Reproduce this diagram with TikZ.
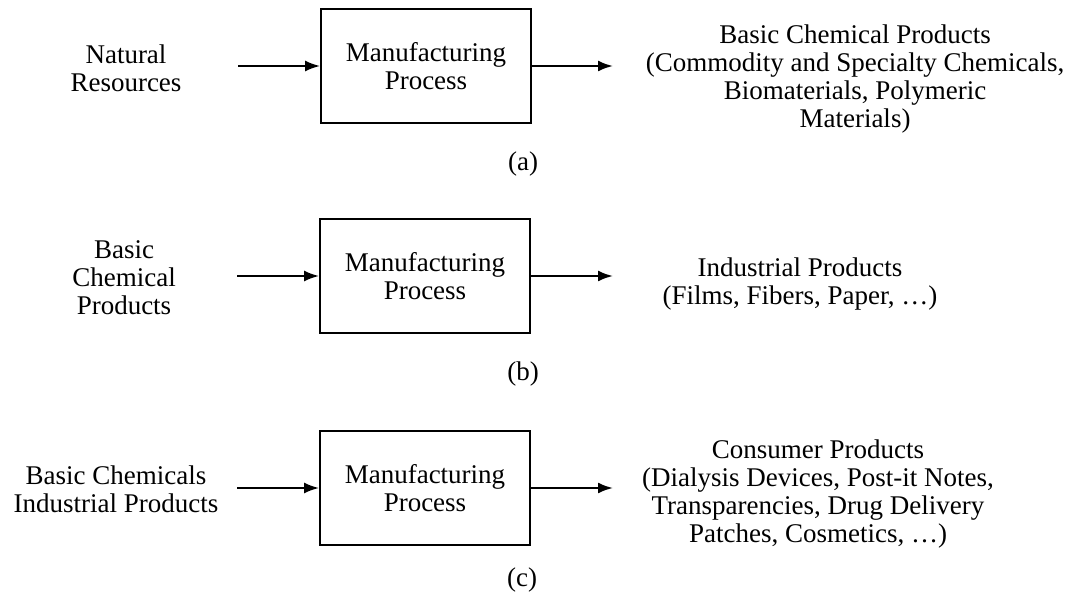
\documentclass[tikz,border=0pt]{standalone}
\usepackage{fontspec}
\setmainfont{Liberation Serif}
\usetikzlibrary{positioning, arrows.meta}

\begin{document}
\begin{tikzpicture}[x=1pt, y=-1pt,
        every node/.style={font=\fontsize{27}{28}\selectfont, align=center, inner sep=0pt},
        procbox/.style={draw, line width=1.8pt, minimum width=210pt, minimum height=114pt},
        flow/.style={line width=2.2pt, -{Latex[length=15pt,width=11pt]}}]
        \useasboundingbox (0,0) rectangle (1069,593);

        % (a) natural resources
        \node[procbox] (boxA) at (426,66) {Manufacturing\\Process};
        \node (inA) at (126,68) {Natural\\Resources};
        \node (outA) at (855,79) {Basic Chemical Products\\(Commodity and Specialty Chemicals,\\Biomaterials, Polymeric\\Materials)};
        \coordinate (startA) at (238,66);
        \coordinate (endA) at (613,66);
        \draw[flow] (startA) -- (boxA.west);
        \draw[flow] (boxA.east) -- (endA);
        \node (labA) at (523,164) {(a)};

        % (b) basic chemical products
        \node[procbox] (boxB) at (425,276) {Manufacturing\\Process};
        \node (inB) at (124,278) {Basic\\Chemical\\Products};
        \node (outB) at (800,284) {Industrial Products\\(Films, Fibers, Paper, \dots)};
        \coordinate (startB) at (237,276);
        \coordinate (endB) at (613,276);
        \draw[flow] (startB) -- (boxB.west);
        \draw[flow] (boxB.east) -- (endB);
        \node (labB) at (523,374) {(b)};

        % (c) consumer products
        \node[procbox] (boxC) at (425,488) {Manufacturing\\Process};
        \node (inC) at (116,489) {Basic Chemicals\\Industrial Products};
        \node (outC) at (818,494) {Consumer Products\\(Dialysis Devices, Post-it Notes,\\Transparencies, Drug Delivery\\Patches, Cosmetics, \dots)};
        \coordinate (startC) at (237,488);
        \coordinate (endC) at (613,488);
        \draw[flow] (startC) -- (boxC.west);
        \draw[flow] (boxC.east) -- (endC);
        \node (labC) at (522,580) {(c)};
    \end{tikzpicture}
\end{document}
